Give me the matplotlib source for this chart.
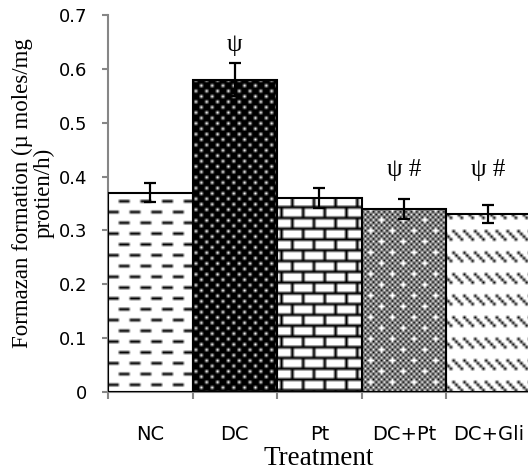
import numpy as np
import matplotlib
matplotlib.use('Agg')
import matplotlib.pyplot as plt

# ---- data ----
categories = ['NC', 'DC', 'Pt', 'DC+Pt', 'DC+Gli']
values = [0.37, 0.58, 0.36, 0.34, 0.33]
errors = [0.018, 0.03, 0.018, 0.018, 0.017]
annotations = ['', 'ψ', '', 'ψ #', 'ψ #']
annotation_y = [None, 0.645, None, 0.412, 0.412]
yticks = [0, 0.1, 0.2, 0.3, 0.4, 0.5, 0.6, 0.7]
ytick_labels = ['0', '0.1', '0.2', '0.3', '0.4', '0.5', '0.6', '0.7']
xlabel = 'Treatment'
ylabel = 'Formazan formation (µ moles/mg\nprotien/h)'

# ---- 8x8 fill patterns (1 = dark, 0 = white) ----
def pat_dashed():
    p = np.zeros((8, 8)); p[1, 0:4] = 1; p[5, 4:8] = 1
    return p

def pat_dots():
    p = np.ones((8, 8))
    for r in (0, 4):
        p[r, 0] = 0; p[r, 4] = 0
    for r in (2, 6):
        p[r, 2] = 0; p[r, 6] = 0
    return p

def pat_brick():
    p = np.zeros((8, 8)); p[3, :] = 1; p[7, :] = 1
    p[0:3, 0] = 1; p[4:7, 4] = 1
    return p

def pat_checker():
    r, c = np.indices((8, 8))
    p = ((r + c) % 2).astype(float)
    p[0, 1] = 0; p[4, 5] = 0
    return p

def pat_diag():
    p = np.zeros((8, 8))
    for k in range(4):
        p[k, k] = 1; p[k, k + 4] = 1
    return p

patterns = [pat_dashed(), pat_dots(), pat_brick(), pat_checker(), pat_diag()]

fig = plt.figure(figsize=(5.28, 4.7), dpi=100)
ax_w_px, ax_h_px = 422.5, 377.0
ax = fig.add_axes([108 / 528, 78 / 470, ax_w_px / 528, ax_h_px / 470])

x = np.arange(len(categories))
bars = ax.bar(x, values, width=1.0, facecolor='none', edgecolor='black',
              linewidth=1.5, zorder=3)

s = 2.69  # screen px per pattern pixel
nx = int(np.ceil(ax_w_px / s)) + 1
ny = int(np.ceil(ax_h_px / s)) + 1
for bar, p in zip(bars, patterns):
    tex = np.tile(p, (ny // 8 + 1, nx // 8 + 1))[:ny, :nx]
    img = 1.0 - tex
    im = ax.imshow(img, cmap='gray', vmin=0, vmax=1,
                   extent=[0, nx * s / ax_w_px, 1 - ny * s / ax_h_px, 1],
                   origin='upper', transform=ax.transAxes,
                   interpolation='bilinear', aspect='auto', zorder=2)
    im.set_clip_path(bar)

ax.errorbar(x, values, yerr=errors, fmt='none', ecolor='black',
            elinewidth=1.6, capsize=4.5, capthick=1.6, zorder=4)

for xi, t, yv in zip(x, annotations, annotation_y):
    if t:
        ax.text(xi, yv, t, ha='center', va='center', fontsize=18,
                family='Liberation Serif', color='black')

ax.set_xlim(-0.5, 4.5)
ax.set_ylim(0, 0.7)

for side in ('top', 'right'):
    ax.spines[side].set_visible(False)
for side in ('left', 'bottom'):
    ax.spines[side].set_color('#868686')
    ax.spines[side].set_linewidth(1.5)

ax.set_yticks(yticks)
ax.set_yticklabels(ytick_labels, family='DejaVu Sans', fontsize=13)
ax.tick_params(axis='y', direction='out', length=4.5, width=1.5,
               color='#868686', pad=10.5)

ax.set_xticks(np.arange(-0.5, 5.0, 1.0))
ax.set_xticklabels([])
ax.tick_params(axis='x', which='major', direction='out', length=5,
               width=1.5, color='#868686')
ax.set_xticks(x, minor=True)
ax.set_xticklabels(categories, minor=True, family='DejaVu Sans', fontsize=14)
ax.tick_params(axis='x', which='minor', length=0, pad=24)

fig.text(319 / 528, 5 / 470, xlabel, ha='center', va='baseline',
         family='Liberation Serif', fontsize=19.5)
fig.text(33 / 528, (470 - 193) / 470, ylabel, rotation=90, ha='center',
         va='center', family='Liberation Serif', fontsize=16.5,
         linespacing=1.0, multialignment='center')

fig.savefig('out.png', dpi=100)
